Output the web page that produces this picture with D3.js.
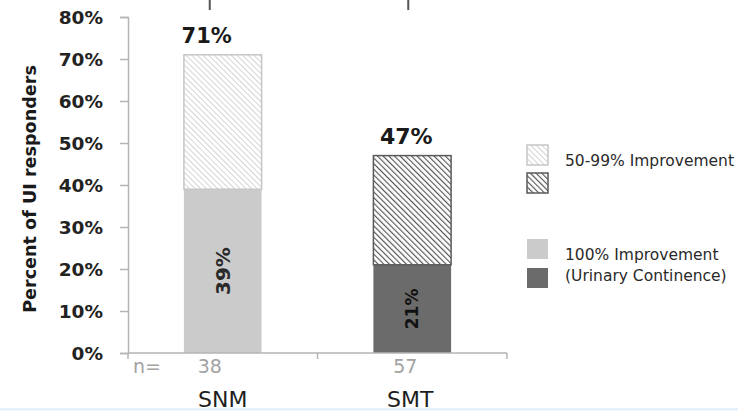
<!DOCTYPE html>
<html><head><meta charset="utf-8">
<script src="https://cdn.jsdelivr.net/npm/d3@7"></script>
<style>
html,body{margin:0;padding:0;background:#fff;}
svg{display:block;font-family:"DejaVu Sans",sans-serif;}
</style></head>
<body>
<svg id="chart" width="738" height="411"></svg>
<script>
const categories = ["SNM", "SMT"];
const nValues = [38, 57];
const complete = [39, 21];     // 100% Improvement (Urinary Continence)
const partial = [32, 26];      // 50-99% Improvement
const totals = [71, 47];
const yTicks = [0, 10, 20, 30, 40, 50, 60, 70, 80];
const legendLabels = ["50-99% Improvement", "100% Improvement", "(Urinary Continence)"];

const svg = d3.select("#chart");
const W = 738, H = 411;
const m = {left: 128, right: 231, top: 17, bottom: 58};

const x = d3.scaleBand().domain(categories).range([m.left, W - m.right]).padding(0);
const y = d3.scaleLinear().domain([0, 80]).range([H - m.bottom, m.top]);
const barFrac = 0.41;
const bw = x.bandwidth() * barFrac;
const bx = c => x(c) + (x.bandwidth() - bw) / 2;

// patterns
const defs = svg.append("defs");
function hatch(id, color, sw, period) {
  const p = defs.append("pattern").attr("id", id).attr("patternUnits", "userSpaceOnUse")
    .attr("width", period).attr("height", period).attr("patternTransform", "rotate(-45)");
  p.append("rect").attr("width", period).attr("height", period).attr("fill", "#fff");
  p.append("line").attr("x1", 0).attr("y1", 0).attr("x2", 0).attr("y2", period)
    .attr("stroke", color).attr("stroke-width", sw);
}
hatch("hLight", "#cfcfcf", 1.8, 4.0);
hatch("hDark", "#555555", 2.3, 4.0);

const solidFill = ["#cbcbcb", "#6b6b6b"];
const hatchFill = ["url(#hLight)", "url(#hDark)"];
const hatchStroke = ["#c6c6c6", "#5a5a5a"];

// top decorative ticks (remnants of the panel above)
svg.selectAll("line.topTick").data(categories).join("line")
  .attr("x1", (c, i) => x(c) + x.bandwidth() / 2 - [13, 4][i])
  .attr("x2", (c, i) => x(c) + x.bandwidth() / 2 - [13, 4][i])
  .attr("y1", 0).attr("y2", 10).attr("stroke", "#555").attr("stroke-width", 2);

// y axis
const yAxis = svg.append("g").attr("transform", `translate(${m.left},0)`)
  .call(d3.axisLeft(y).tickValues(yTicks).tickSize(8).tickPadding(17).tickFormat(d => d + "%"));
yAxis.select(".domain").attr("stroke", "#b4b4b4").attr("stroke-width", 1.5);
yAxis.selectAll(".tick line").attr("stroke", "#b4b4b4").attr("stroke-width", 1.5);
yAxis.selectAll(".tick text").attr("fill", "#222").attr("font-size", 18.5)
  .attr("font-weight", "bold").attr("font-family", "DejaVu Sans").attr("dy", "0.36em");

// y title
svg.append("text")
  .attr("transform", `translate(36,${(y(0) + y(80)) / 2 + 4}) rotate(-90)`)
  .attr("text-anchor", "middle").attr("font-size", 17.6).attr("font-weight", "bold")
  .attr("fill", "#1a1a1a").text("Percent of UI responders");

// bars: solid (complete) segments
svg.selectAll("rect.solid").data(categories).join("rect")
  .attr("x", c => bx(c)).attr("width", bw)
  .attr("y", (c, i) => y(complete[i])).attr("height", (c, i) => y(0) - y(complete[i]))
  .attr("fill", (c, i) => solidFill[i]);

// hatched (partial) segments
svg.selectAll("rect.hatch").data(categories).join("rect")
  .attr("x", c => bx(c)).attr("width", bw)
  .attr("y", (c, i) => y(complete[i] + partial[i]))
  .attr("height", (c, i) => y(complete[i]) - y(complete[i] + partial[i]))
  .attr("fill", (c, i) => hatchFill[i]).attr("stroke", (c, i) => hatchStroke[i]).attr("stroke-width", 1.5);

// x axis
const xA = svg.append("g");
xA.append("line").attr("x1", x.range()[0]).attr("x2", x.range()[1])
  .attr("y1", y(0)).attr("y2", y(0)).attr("stroke", "#b4b4b4").attr("stroke-width", 1.5);
const bounds = categories.map(c => x(c)).concat([x.range()[1]]);
xA.selectAll("line.xt").data(bounds).join("line")
  .attr("x1", d => d).attr("x2", d => d).attr("y1", y(0)).attr("y2", y(0) + 6)
  .attr("stroke", "#b4b4b4").attr("stroke-width", 1.5);

// total labels
svg.selectAll("text.total").data(categories).join("text")
  .attr("x", (c, i) => x(c) + x.bandwidth() / 2 - [16, 6][i])
  .attr("y", (c, i) => y(totals[i]) - 12)
  .attr("text-anchor", "middle").attr("font-size", (c, i) => [21, 22][i]).attr("font-weight", "bold")
  .attr("fill", "#1a1a1a").text((c, i) => totals[i] + "%");

// inner labels (rotated)
svg.selectAll("text.inner").data(categories).join("text")
  .attr("transform", (c, i) => `translate(${x(c) + x.bandwidth() / 2},${(y(0) + y(complete[i])) / 2}) rotate(-90)`)
  .attr("text-anchor", "middle").attr("dy", "0.36em")
  .attr("font-size", (c, i) => [20, 17][i]).attr("font-weight", "bold")
  .attr("fill", (c, i) => ["#2a2a2a", "#111"][i]).text((c, i) => complete[i] + "%");

// n labels
svg.append("text").attr("x", x.range()[0] + 5).attr("y", y(0) + 20)
  .attr("font-size", 19).attr("fill", "#a3a3a3").text("n=");
svg.selectAll("text.n").data(categories).join("text")
  .attr("x", (c, i) => x(c) + x.bandwidth() / 2 - [13, 7][i]).attr("y", y(0) + 20)
  .attr("text-anchor", "middle").attr("font-size", 19).attr("fill", "#a3a3a3")
  .text((c, i) => nValues[i]);

// category labels
svg.selectAll("text.cat").data(categories).join("text")
  .attr("x", (c, i) => x(c) + x.bandwidth() / 2 - [0, 2][i]).attr("y", y(0) + 54)
  .attr("text-anchor", "middle").attr("font-size", 22).attr("fill", "#1e1e1e").text(c => c);

// legend
const lx = 527, sw = 21, sh = 20;
const lg = svg.append("g");
const swatches = [
  {y: 145, fill: hatchFill[0], stroke: hatchStroke[0]},
  {y: 173, fill: hatchFill[1], stroke: hatchStroke[1]},
  {y: 239, fill: solidFill[0], stroke: "none"},
  {y: 268, fill: solidFill[1], stroke: "none"}
];
lg.selectAll("rect").data(swatches).join("rect")
  .attr("x", lx).attr("y", d => d.y).attr("width", sw).attr("height", sh)
  .attr("fill", d => d.fill).attr("stroke", d => d.stroke).attr("stroke-width", 1.5);
lg.selectAll("text").data(legendLabels).join("text")
  .attr("x", 565).attr("y", (d, i) => [166, 260, 281][i])
  .attr("font-size", 15.5).attr("fill", "#2a2a2a").text(d => d);

// bottom light strip
svg.append("rect").attr("x", 0).attr("y", 409).attr("width", W).attr("height", 2).attr("fill", "#f2f8fd");
svg.append("line").attr("x1", 0).attr("x2", W).attr("y1", 409).attr("y2", 409)
  .attr("stroke", "#cfe2f3").attr("stroke-width", 1);
</script>
</body></html>
